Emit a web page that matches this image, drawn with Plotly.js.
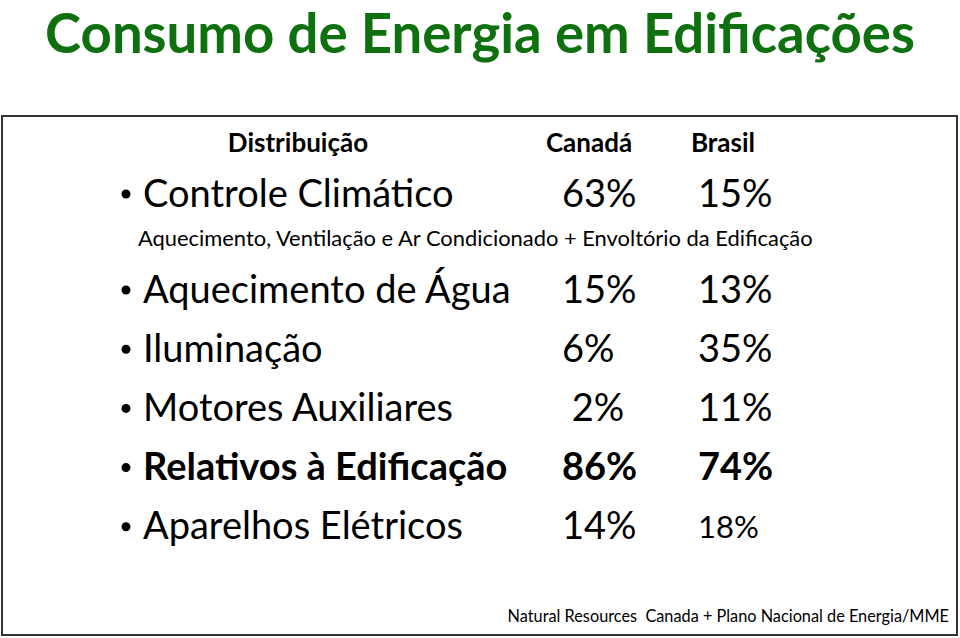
<!DOCTYPE html>
<html>
<head>
<meta charset="utf-8">
<script src="https://cdn.plot.ly/plotly-3.0.1.min.js"></script>
<style>html,body{margin:0;padding:0;background:#fff;}#chart{width:960px;height:638px;}</style>
</head>
<body>
<div id="chart"></div>
<script>
// ---- data ----
const chartTitle = 'Consumo de Energia em Edificações';
const headers = ['Distribuição', 'Canadá', 'Brasil'];
const categories = ['Controle Climático', 'Aquecimento de Água', 'Iluminação', 'Motores Auxiliares', 'Relativos à Edificação', 'Aparelhos Elétricos'];
const canada = [63, 15, 6, 2, 86, 14];
const brasil = [15, 13, 35, 11, 74, 18];
const subtitle = 'Aquecimento, Ventilação e Ar Condicionado + Envoltório da Edificação';
const source = 'Natural Resources  Canada + Plano Nacional de Energia/MME';
const boldRow = 'Relativos à Edificação';

// ---- layout helpers (positions in page pixels) ----
const FONT = 'Lato, "Open Sans", sans-serif';
const rowY = categories.map((c, i) => i === 0 ? 197 : 293 + 59.2 * (i - 1));
const colLabel = 143, colCan = 562, colBra = 698, colBullet = 126;
const fmt = (c, s) => c === boldRow ? '<b>' + s + '</b>' : s;

const traces = [
  { // bullets
    type: 'scatter', mode: 'markers', x: categories.map(() => colBullet), y: rowY.map(y => y - 3),
    marker: {symbol: 'circle', size: 9, color: '#000'}, hoverinfo: 'skip'
  },
  { // category labels
    type: 'scatter', mode: 'text', x: categories.map(() => colLabel), y: rowY,
    text: categories.map(c => fmt(c, c)), textposition: 'middle right',
    textfont: {family: FONT, size: 38, color: '#000'}, hoverinfo: 'skip'
  },
  { // canada
    type: 'scatter', mode: 'text', x: categories.map(() => colCan), y: rowY,
    text: canada.map((v, i) => fmt(categories[i], (i === 3 ? '\u00a0' : '') + v + '%')),
    textposition: 'middle right',
    textfont: {family: FONT, size: 38, color: '#000'}, hoverinfo: 'skip'
  },
  { // brasil
    type: 'scatter', mode: 'text', x: categories.map(() => colBra), y: rowY,
    text: brasil.map((v, i) => fmt(categories[i], v + '%')),
    textposition: 'middle right',
    textfont: {family: FONT, size: categories.map((c, i) => i === categories.length - 1 ? 31 : 38), color: '#000'},
    hoverinfo: 'skip'
  },
  { // headers
    type: 'scatter', mode: 'text', x: [298, 589, 723], y: [145, 145, 145],
    text: headers.map(h => '<b>' + h + '</b>'), textposition: 'middle center',
    textfont: {family: FONT, size: 26, color: '#000'}, hoverinfo: 'skip'
  },
  { // subtitle
    type: 'scatter', mode: 'text', x: [138], y: [241], text: [subtitle], textposition: 'middle right',
    textfont: {family: FONT, size: 21.9, color: '#000'}, hoverinfo: 'skip'
  },
  { // source
    type: 'scatter', mode: 'text', x: [949], y: [618], text: [source], textposition: 'middle left',
    textfont: {family: FONT, size: 16.3, color: '#000'}, hoverinfo: 'skip'
  }
];

const layout = {
  width: 960, height: 638, margin: {l: 0, r: 0, t: 0, b: 0},
  paper_bgcolor: '#fff', plot_bgcolor: '#fff', showlegend: false,
  title: {text: '<b>' + chartTitle + '</b>', x: 0.5, xanchor: 'center', y: 0.947, yanchor: 'middle',
          font: {family: FONT, size: 54.5, color: '#0e700e'}},
  xaxis: {range: [0, 960], visible: false, fixedrange: true},
  yaxis: {range: [638, 0], visible: false, fixedrange: true},
  shapes: [{type: 'rect', xref: 'x', yref: 'y', x0: 2, x1: 957, y0: 116, y1: 635,
            line: {color: '#333', width: 2}, fillcolor: 'rgba(0,0,0,0)'}]
};

Plotly.newPlot('chart', traces, layout, {displayModeBar: false, staticPlot: true});
</script>
</body>
</html>
